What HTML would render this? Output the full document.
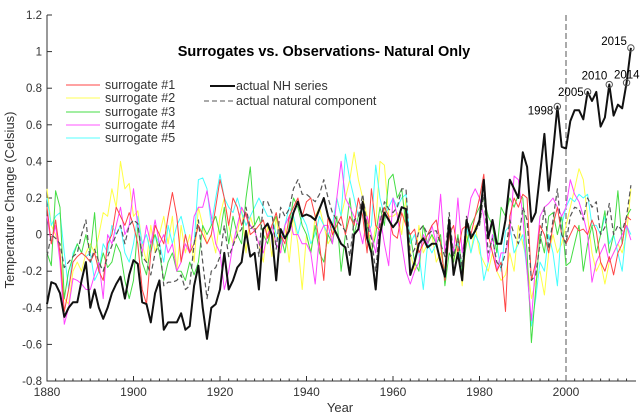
<!DOCTYPE html>
<html><head><meta charset="utf-8"><style>
html,body{margin:0;padding:0;background:#fff;}
svg{display:block;font-family:"Liberation Sans",sans-serif;}
</style></head><body>
<svg id="chart" width="640" height="417" viewBox="0 0 640 417">
<g id="grid"></g>
<g id="series"></g>
<g id="ann"></g>
<text x="324" y="56" text-anchor="middle" font-size="14.5" font-weight="bold">Surrogates vs. Observations- Natural Only</text>
<text x="340" y="412" text-anchor="middle" font-size="13" fill="#333">Year</text>
<text transform="translate(14,200) rotate(-90)" text-anchor="middle" font-size="13" fill="#333">Temperature Change (Celsius)</text>
<g font-size="12.5" fill="#333">
<line x1="66" y1="85" x2="100" y2="85" stroke="#ff4444"/><text x="105" y="89">surrogate #1</text>
<line x1="66" y1="98" x2="100" y2="98" stroke="#ffff55"/><text x="105" y="102">surrogate #2</text>
<line x1="66" y1="112" x2="100" y2="112" stroke="#44dd44"/><text x="105" y="116">surrogate #3</text>
<line x1="66" y1="125" x2="100" y2="125" stroke="#ff55ff"/><text x="105" y="129">surrogate #4</text>
<line x1="66" y1="138" x2="100" y2="138" stroke="#55ffff"/><text x="105" y="142">surrogate #5</text>
<line x1="210" y1="86" x2="235" y2="86" stroke="#111" stroke-width="2"/><text x="236" y="90">actual NH series</text>
<line x1="204" y1="101" x2="235" y2="101" stroke="#555" stroke-dasharray="5,3"/><text x="236" y="105">actual natural component</text>
</g>
</svg>
<script>
const years0 = 1880;
const yTicks = [1.2,1,0.8,0.6,0.4,0.2,0,-0.2,-0.4,-0.6,-0.8];
const yTickLabels = ["1.2","1","0.8","0.6","0.4","0.2","0","-0.2","-0.4","-0.6","-0.8"];
const xTicks = [1880,1900,1920,1940,1960,1980,2000];
const nh = [-0.38,-0.26,-0.27,-0.32,-0.45,-0.40,-0.37,-0.37,-0.25,-0.15,
-0.40,-0.30,-0.40,-0.46,-0.40,-0.32,-0.27,-0.23,-0.35,-0.22,
-0.14,-0.16,-0.37,-0.38,-0.48,-0.32,-0.25,-0.52,-0.48,-0.48,
-0.48,-0.43,-0.52,-0.50,-0.28,-0.17,-0.40,-0.57,-0.40,-0.38,
-0.30,-0.10,-0.30,-0.25,-0.18,-0.15,0.02,-0.12,-0.10,-0.30,
0.03,0.06,0.0,-0.25,0.03,-0.02,0.02,0.12,0.18,0.10,
0.11,0.10,0.08,0.14,0.20,0.10,0.05,0.0,-0.05,-0.07,
-0.22,0.0,0.03,0.18,-0.02,-0.10,-0.30,0.0,0.12,0.08,
0.04,0.07,0.15,0.14,-0.22,-0.15,-0.05,-0.02,-0.07,-0.05,
-0.05,-0.15,-0.23,0.08,-0.22,-0.10,-0.25,0.08,-0.02,0.02,
0.08,0.30,-0.02,0.08,-0.05,-0.05,0.08,0.30,0.25,0.20,
0.45,0.37,0.07,0.12,0.33,0.55,0.24,0.45,0.70,0.48,
0.47,0.62,0.68,0.68,0.63,0.78,0.73,0.78,0.59,0.64,
0.82,0.65,0.71,0.69,0.83,1.02];
const natural = [-0.12,0.0,-0.02,-0.05,-0.18,-0.15,-0.12,-0.10,0.0,0.08,
-0.15,-0.08,-0.15,-0.20,-0.12,-0.06,0.0,0.05,-0.05,0.05,
0.08,0.06,-0.12,-0.15,-0.22,-0.10,-0.05,-0.28,-0.26,-0.26,
-0.25,-0.22,-0.30,-0.28,-0.05,0.08,-0.15,-0.35,-0.20,-0.18,
-0.12,0.05,-0.12,-0.06,0.0,0.03,0.15,0.03,0.05,-0.12,
0.18,0.18,0.12,-0.08,0.15,0.10,0.14,0.25,0.30,0.22,
0.22,0.20,0.18,0.22,0.30,0.20,0.12,0.08,0.05,0.02,
-0.12,0.08,0.10,0.22,0.05,-0.02,-0.20,0.06,0.18,0.14,
0.12,0.15,0.25,0.25,-0.12,-0.08,0.02,0.05,0.0,0.02,
0.02,-0.05,-0.12,0.12,-0.12,-0.02,-0.18,0.10,0.0,0.02,
0.05,0.22,-0.10,-0.02,-0.15,-0.18,-0.10,0.08,0.0,-0.05,
0.15,0.08,-0.25,-0.22,-0.05,0.15,-0.08,0.08,0.25,0.0,
-0.05,0.10,0.15,0.14,0.08,0.20,0.15,0.18,0.0,0.04,
0.17,0.0,0.05,0.02,0.10,0.27];
const s1 = [0.15,-0.05,0.08,-0.1,-0.42,-0.3,-0.15,-0.12,-0.1,-0.12,
-0.15,-0.1,-0.2,-0.25,-0.05,0.0,0.15,0.1,0.05,0.12,
0.05,-0.05,-0.3,-0.38,-0.1,0.05,0.0,-0.05,0.1,0.23,
0.1,-0.15,0.0,-0.1,-0.05,0.05,0.0,-0.05,0.0,0.15,
0.3,0.2,0.05,0.2,0.15,0.05,0.12,0.0,0.02,0.05,
0.08,-0.02,0.05,0.12,0.0,-0.05,0.1,0.15,0.2,0.1,
0.18,0.2,0.1,-0.05,-0.25,0.1,0.0,0.05,0.1,0.0,
0.1,0.05,0.2,0.1,-0.1,0.25,0.05,0.02,0.15,0.1,
0.0,-0.02,0.12,0.05,0.0,0.03,-0.1,-0.05,0.0,0.05,
0.08,-0.05,-0.25,0.0,0.05,-0.1,0.03,0.05,0.0,0.1,
0.2,0.33,0.0,-0.1,-0.2,-0.15,-0.42,0.1,0.2,0.15,
0.22,0.2,-0.25,-0.15,0.05,0.0,-0.1,0.05,0.15,0.0,
-0.05,0.0,0.05,0.02,0.03,0.0,0.08,0.02,-0.15,-0.2,
-0.12,-0.22,-0.1,-0.05,0.1,0.08];
const s2 = [0.25,0.05,0.0,-0.1,-0.35,-0.38,-0.2,-0.15,-0.2,-0.1,
-0.05,-0.1,0.0,0.12,0.1,0.25,0.15,0.4,0.25,0.28,
0.1,0.13,-0.05,-0.15,0.05,-0.1,0.0,0.1,-0.05,0.1,
-0.2,0.05,-0.1,0.0,-0.15,0.15,0.05,-0.05,0.0,-0.1,
0.1,0.2,0.05,-0.05,0.0,0.15,-0.1,0.1,0.02,-0.05,
-0.15,0.05,-0.12,0.1,-0.1,0.05,-0.15,0.1,-0.05,-0.3,
0.0,-0.1,0.1,0.15,0.05,-0.05,0.0,0.2,0.1,0.2,
0.3,0.45,0.3,0.2,0.1,-0.1,0.05,0.4,0.38,0.1,
0.1,0.12,0.0,0.2,-0.1,-0.2,0.05,-0.1,-0.05,0.0,
-0.15,-0.1,-0.2,0.0,-0.15,-0.05,-0.28,0.0,-0.1,0.05,
-0.1,-0.15,-0.2,-0.1,-0.2,-0.25,-0.22,-0.1,-0.2,0.05,
-0.05,-0.15,-0.35,-0.25,-0.2,-0.33,-0.1,0.0,-0.1,-0.05,
0.05,0.15,0.25,0.36,0.3,0.1,-0.1,-0.2,-0.15,-0.27,
-0.15,-0.1,-0.05,-0.1,0.0,0.25];
const s3 = [-0.1,-0.17,0.24,0.15,-0.35,-0.2,-0.12,-0.05,-0.1,0.0,
-0.1,0.12,-0.2,-0.1,-0.18,-0.15,-0.05,-0.1,-0.25,-0.35,
-0.25,0.05,-0.15,-0.22,-0.05,0.0,-0.1,-0.25,-0.15,-0.1,
-0.2,-0.2,-0.25,-0.15,-0.22,-0.15,0.05,0.0,0.05,0.1,
0.0,0.15,-0.05,0.1,0.0,-0.05,0.2,0.37,0.05,0.1,
0.0,-0.05,0.05,0.1,0.0,-0.1,0.05,0.2,0.15,0.05,
0.0,-0.1,0.05,-0.1,-0.15,0.0,-0.05,0.1,-0.2,0.0,
0.2,0.0,0.1,0.15,0.05,-0.1,0.0,0.15,0.05,0.3,
0.33,0.2,0.25,0.05,0.0,-0.15,-0.2,0.05,-0.05,0.0,
-0.05,0.0,-0.28,-0.1,-0.15,0.0,-0.2,-0.05,0.05,0.1,
0.15,0.2,0.1,0.05,-0.1,0.15,0.1,0.2,0.15,0.22,
0.2,-0.1,-0.59,-0.3,0.0,-0.1,0.1,0.12,0.0,0.1,
-0.17,-0.15,-0.05,0.05,-0.2,-0.05,0.05,-0.1,0.0,0.13,
-0.1,0.0,0.24,-0.05,0.1,0.14];
const s4 = [0.1,-0.05,0.05,-0.15,-0.49,-0.4,-0.24,-0.25,-0.27,-0.3,
-0.3,-0.22,-0.15,-0.35,0.0,-0.05,0.05,0.15,0.0,0.05,
0.25,0.05,-0.1,0.05,-0.05,0.08,-0.05,0.0,-0.1,-0.05,
-0.2,-0.15,-0.05,-0.1,0.1,0.15,0.15,0.24,0.1,-0.05,
-0.1,-0.3,-0.2,-0.05,0.05,0.15,0.1,0.05,0.02,-0.05,
-0.1,0.0,0.05,-0.05,-0.1,0.05,0.1,0.0,0.0,-0.05,
-0.05,-0.1,-0.27,0.0,0.05,0.05,-0.05,0.2,0.4,0.2,
0.15,0.1,0.05,-0.05,0.1,0.0,-0.1,0.1,-0.05,-0.17,
0.2,0.1,-0.05,-0.2,-0.27,-0.2,-0.15,0.0,-0.05,0.05,
-0.05,0.22,-0.1,0.05,-0.1,0.2,-0.1,0.05,0.2,0.25,
0.2,0.1,-0.15,0.0,-0.2,-0.1,-0.1,0.0,0.32,0.3,
0.1,-0.2,-0.47,-0.15,0.1,0.15,0.17,0.2,0.15,0.1,
0.15,0.3,0.22,0.18,0.1,0.0,-0.26,-0.15,-0.1,-0.05,
-0.15,-0.1,-0.05,0.0,0.05,-0.03];
const s5 = [0.2,0.05,0.1,0.12,-0.1,-0.3,-0.1,-0.05,-0.1,-0.12,
-0.1,-0.25,-0.2,-0.05,-0.1,0.05,0.0,0.05,-0.1,-0.15,
-0.05,0.1,-0.05,0.0,-0.1,0.0,-0.05,-0.15,0.05,-0.05,
0.05,0.1,0.0,-0.1,-0.05,0.3,0.31,0.25,0.05,0.2,
0.33,0.2,0.15,0.12,0.2,0.12,0.05,0.1,0.15,0.2,
0.15,0.1,0.1,0.0,-0.05,0.05,0.15,0.1,0.0,0.1,
0.05,-0.05,0.0,0.1,0.05,0.0,0.05,0.2,0.1,0.44,
0.3,0.2,0.1,0.15,0.0,0.05,0.38,0.2,0.1,0.15,
0.2,0.15,0.2,0.22,-0.05,0.0,-0.1,-0.3,-0.05,-0.1,
-0.05,-0.15,-0.2,0.0,-0.1,-0.05,-0.2,0.05,-0.1,0.0,
-0.05,-0.25,-0.15,0.0,-0.05,-0.2,0.02,0.05,-0.1,-0.05,
0.0,-0.2,-0.5,-0.35,-0.15,-0.2,0.0,-0.1,-0.28,0.05,
0.15,0.2,0.18,0.22,0.2,0.22,0.05,0.05,0.0,0.1,
-0.05,0.0,-0.1,-0.2,0.05,0.0];
const markedYears = [1998,2005,2010,2014,2015];
const markedLabels = ["1998","2005","2010","2014","2015"];

const NS = "http://www.w3.org/2000/svg";
function X(yr){return 47 + (yr-1880)*4.325;}
function Y(v){return 234.6 - v*183;}
function mk(tag, parent){const e=document.createElementNS(NS,tag);parent.appendChild(e);return e;}
const grid=document.getElementById('grid'), ser=document.getElementById('series'), ann=document.getElementById('ann');

let ax=mk('path',grid);


ax.setAttribute('d','M47,'+Y(1.2)+'V'+Y(-0.8)+'H636');ax.setAttribute('stroke','#333');ax.setAttribute('fill','none');
yTicks.forEach((v,i)=>{
  let t=mk('line',grid);
  
  
  t.setAttribute('x1',47);t.setAttribute('x2',52);t.setAttribute('y1',Y(v));t.setAttribute('y2',Y(v));t.setAttribute('stroke','#333');
  let l=mk('text',grid);
  
  
  l.setAttribute('x',42);l.setAttribute('y',Y(v)+4);l.setAttribute('text-anchor','end');l.setAttribute('font-size','11.5');l.setAttribute('fill','#333');
  l.textContent=yTickLabels[i];
});
for(let yr=1880; yr<=2014; yr+=2){
  let t=mk('line',grid);
  
  
  t.setAttribute('x1',X(yr));t.setAttribute('x2',X(yr));t.setAttribute('y1',Y(-0.8));t.setAttribute('y2',Y(-0.8)-(yr%20==0?5:2.5));t.setAttribute('stroke','#333');
}
xTicks.forEach(yr=>{
  let l=mk('text',grid);
  
  
  l.setAttribute('x',X(yr));l.setAttribute('y',396);l.setAttribute('text-anchor','middle');l.setAttribute('font-size','12');l.setAttribute('fill','#333');
  l.textContent=String(yr);
});
let vl=mk('line',grid);


vl.setAttribute('x1',X(2000));vl.setAttribute('x2',X(2000));vl.setAttribute('y1',Y(1.2));vl.setAttribute('y2',Y(-0.8));vl.setAttribute('stroke','#555');vl.setAttribute('stroke-dasharray','6,3');

function line(data,color,w,dash,name){
  let p=mk('path',ser);
  
  
  p.setAttribute('d',data.map((v,i)=>(i?'L':'M')+X(years0+i).toFixed(1)+','+Y(v).toFixed(1)).join(''));
  p.setAttribute('fill','none');p.setAttribute('stroke',color);p.setAttribute('stroke-width',w);p.setAttribute('stroke-linejoin','round');
  if(dash)p.setAttribute('stroke-dasharray',dash);
}
line(s2,'#ffff44',1,null,'surrogate-2-line');
line(s5,'#44ffff',1,null,'surrogate-5-line');
line(s3,'#44dd44',1,null,'surrogate-3-line');
line(s4,'#ff44ff',1,null,'surrogate-4-line');
line(s1,'#ff4444',1,null,'surrogate-1-line');
line(natural,'#555',1.2,'5,3','natural-component-line');
line(nh,'#111',2,null,'nh-series-line');

const labelPos = {1998:[-4,8,'end'],2005:[-4,4,'end'],2010:[-2,-5,'end'],2014:[13,-4,'end'],2015:[-4,-3,'end']};
markedYears.forEach((yr,i)=>{
  const v=nh[yr-years0];
  let c=mk('circle',ann);
  
  
  c.setAttribute('cx',X(yr));c.setAttribute('cy',Y(v));c.setAttribute('r',3.2);c.setAttribute('fill','none');c.setAttribute('stroke','#555');
  const p=labelPos[yr];
  let t=mk('text',ann);
  
  
  t.setAttribute('x',X(yr)+p[0]);t.setAttribute('y',Y(v)+p[1]);t.setAttribute('text-anchor',p[2]);t.setAttribute('font-size','11.5');
  t.textContent=markedLabels[i];
});
</script>
</body></html>
